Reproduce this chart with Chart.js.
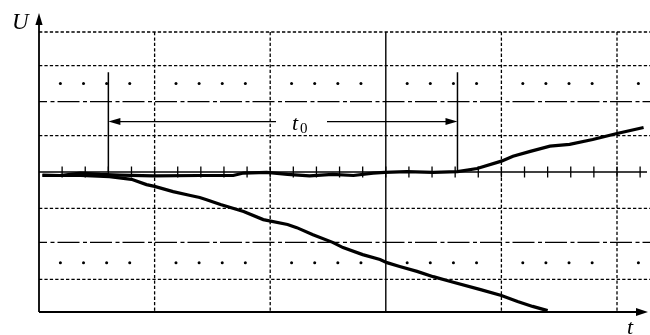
<!DOCTYPE html>
<html>
<head>
<meta charset="utf-8">
<script src="https://cdn.jsdelivr.net/npm/chart.js@4/dist/chart.umd.min.js"></script>
<style>
  html, body { margin: 0; padding: 0; background: #fff; }
  canvas { display: block; }
</style>
</head>
<body>
<canvas id="scope" width="650" height="335"></canvas>
<script>
// Time in screen divisions, voltage in vertical divisions.
// Trace that stays flat and then rises after t0.
const riseT = [0.03, 0.18, 0.36, 0.53, 0.70, 0.99, 1.39, 1.68, 1.77, 1.97, 2.15, 2.34, 2.54, 2.72, 2.89, 2.99, 3.18, 3.41, 3.62, 3.79, 4.00, 4.10, 4.25, 4.42, 4.59, 4.79, 5.00, 5.23];
const riseU = [-0.09, -0.10, -0.03, -0.07, -0.09, -0.11, -0.10, -0.10, -0.03, -0.01, -0.07, -0.11, -0.07, -0.10, -0.03, -0.01, 0.01, -0.01, 0.01, 0.10, 0.31, 0.45, 0.59, 0.74, 0.79, 0.93, 1.10, 1.27];

// Trace that falls steadily.
const fallT = [0.03, 0.36, 0.61, 0.80, 0.93, 1.00, 1.16, 1.31, 1.39, 1.45, 1.57, 1.77, 1.94, 2.15, 2.23, 2.37, 2.54, 2.63, 2.80, 2.95, 3.01, 3.12, 3.27, 3.41, 3.56, 3.82, 4.00, 4.14, 4.27, 4.40];
const fallU = [-0.10, -0.10, -0.13, -0.21, -0.36, -0.41, -0.56, -0.67, -0.73, -0.79, -0.93, -1.13, -1.36, -1.50, -1.59, -1.79, -2.01, -2.16, -2.36, -2.50, -2.59, -2.70, -2.84, -2.99, -3.13, -3.36, -3.53, -3.70, -3.84, -3.96];

// Graticule levels.
const dashedLevels = [4, 3.04, 1.04, -1.04, -3.07];
const dashDotLevels = [2.01, -2.01];
const dottedLevels = [2.53, -2.59];
const gridTimes = [1, 2, 4, 5];
const solidTimes = [3];

// Interval t0 markers.
const t0Start = 0.6;
const t0End = 3.62;
const t0Top = 2.85;
const t0Arrow = 1.44;

const INK = '#000';

function arrowHead(ctx, tipX, tipY, dirX, dirY, len, half) {
  const bx = tipX - dirX * len, by = tipY - dirY * len;
  const nx = -dirY, ny = dirX;
  ctx.beginPath();
  ctx.moveTo(tipX, tipY);
  ctx.lineTo(bx + nx * half, by + ny * half);
  ctx.lineTo(bx - nx * half, by - ny * half);
  ctx.closePath();
  ctx.fill();
}

const graticule = {
  id: 'graticule',
  beforeDatasetsDraw(chart) {
    const ctx = chart.ctx;
    const xs = chart.scales.x, ys = chart.scales.y;
    const X = v => xs.getPixelForValue(v);
    const Y = v => ys.getPixelForValue(v);
    const left = X(0), right = chart.width;
    const top = Y(4), bottom = Y(-4);
    ctx.save();
    ctx.strokeStyle = INK;
    ctx.fillStyle = INK;

    // dashed horizontals
    ctx.lineWidth = 1.3;
    ctx.setLineDash([3.3, 2.1]);
    dashedLevels.forEach(l => {
      ctx.beginPath();
      ctx.moveTo(left, Y(l));
      ctx.lineTo(right, Y(l));
      ctx.stroke();
    });
    // dashed verticals
    gridTimes.forEach(t => {
      ctx.beginPath();
      ctx.moveTo(X(t), top);
      ctx.lineTo(X(t), bottom);
      ctx.stroke();
    });

    // dash-dot horizontals
    ctx.setLineDash([22, 3.5, 4, 3]);
    ctx.lineDashOffset = 14;
    dashDotLevels.forEach(l => {
      ctx.beginPath();
      ctx.moveTo(left, Y(l));
      ctx.lineTo(right, Y(l));
      ctx.stroke();
    });
    ctx.lineDashOffset = 0;
    ctx.setLineDash([]);

    // dotted rows
    dottedLevels.forEach(l => {
      for (let k = 1; k <= 26; k++) {
        if (k % 5 === 0) continue;
        const px = X(k * 0.2 - 0.015);
        ctx.beginPath();
        ctx.arc(px, Y(l), 1.5, 0, Math.PI * 2);
        ctx.fill();
      }
    });

    // solid vertical
    ctx.lineWidth = 1.4;
    solidTimes.forEach(t => {
      ctx.beginPath();
      ctx.moveTo(X(t), top);
      ctx.lineTo(X(t), bottom);
      ctx.stroke();
    });

    // centre line with ticks
    ctx.lineWidth = 1.6;
    ctx.beginPath();
    ctx.moveTo(left, Y(0));
    ctx.lineTo(647, Y(0));
    ctx.stroke();
    ctx.lineWidth = 1.3;
    for (let k = 1; k <= 26; k++) {
      const px = X(k * 0.2);
      ctx.beginPath();
      ctx.moveTo(px, Y(0) - 5.5);
      ctx.lineTo(px, Y(0) + 5.5);
      ctx.stroke();
    }

    // axes with arrows
    ctx.lineWidth = 1.8;
    ctx.beginPath();
    ctx.moveTo(left, bottom);
    ctx.lineTo(left, 24);
    ctx.stroke();
    arrowHead(ctx, left, 13, 0, -1, 12, 3.6);
    ctx.beginPath();
    ctx.moveTo(left, bottom);
    ctx.lineTo(638, bottom);
    ctx.stroke();
    arrowHead(ctx, 648, bottom, 1, 0, 12, 4);
    ctx.restore();
  },
  afterDatasetsDraw(chart) {
    const ctx = chart.ctx;
    const xs = chart.scales.x, ys = chart.scales.y;
    const X = v => xs.getPixelForValue(v);
    const Y = v => ys.getPixelForValue(v);
    ctx.save();
    ctx.strokeStyle = INK;
    ctx.fillStyle = INK;
    ctx.lineWidth = 1.5;

    // t0 markers
    [t0Start, t0End].forEach(t => {
      ctx.beginPath();
      ctx.moveTo(X(t), Y(t0Top));
      ctx.lineTo(X(t), Y(0));
      ctx.stroke();
    });
    const ay = Y(t0Arrow);
    ctx.lineWidth = 1.4;
    ctx.beginPath();
    ctx.moveTo(X(t0Start) + 8, ay);
    ctx.lineTo(276, ay);
    ctx.moveTo(327, ay);
    ctx.lineTo(X(t0End) - 8, ay);
    ctx.stroke();
    arrowHead(ctx, X(t0Start), ay, -1, 0, 12, 3.5);
    arrowHead(ctx, X(t0End), ay, 1, 0, 12, 3.5);

    // labels
    ctx.textBaseline = 'alphabetic';
    ctx.textAlign = 'left';
    ctx.font = 'italic 23px "Liberation Serif", "DejaVu Serif", serif';
    ctx.fillText('U', 12, 29);
    ctx.font = 'italic 22px "Liberation Serif", "DejaVu Serif", serif';
    ctx.fillText('t', 627, 334);
    ctx.fillText('t', 292, 130);
    ctx.font = '15px "Liberation Serif", "DejaVu Serif", serif';
    ctx.fillText('0', 300, 133);
    ctx.restore();
  }
};

const toPoints = (ts, us) => ts.map((t, i) => ({ x: t, y: us[i] }));

new Chart(document.getElementById('scope'), {
  type: 'line',
  data: {
    datasets: [
      { data: toPoints(riseT, riseU), borderColor: INK, borderWidth: 3.2, pointRadius: 0, tension: 0, clip: false, fill: false },
      { data: toPoints(fallT, fallU), borderColor: INK, borderWidth: 3.2, pointRadius: 0, tension: 0, clip: false, fill: false }
    ]
  },
  options: {
    responsive: false,
    devicePixelRatio: 1,
    animation: false,
    events: [],
    layout: { padding: { left: 39, right: 4.1, top: 32, bottom: 23 } },
    scales: {
      x: { type: 'linear', min: 0, max: 5.25, display: false },
      y: { type: 'linear', min: -4, max: 4, display: false }
    },
    plugins: { legend: { display: false }, tooltip: { enabled: false } }
  },
  plugins: [graticule]
});
</script>
</body>
</html>
